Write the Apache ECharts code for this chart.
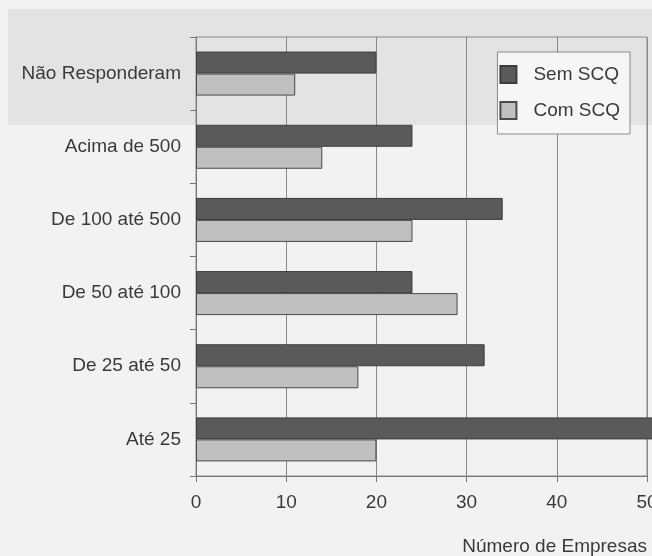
<!DOCTYPE html>
<html>
<head>
<meta charset="utf-8">
<script src="https://cdn.jsdelivr.net/npm/echarts@6/dist/echarts.min.js"></script>
<style>
  html, body { margin: 0; padding: 0; background: #f2f2f0; }
  #chart { width: 652px; height: 556px; }
</style>
</head>
<body>
<div id="chart"></div>
<script>
// Company size classes (top to bottom as drawn)
const categories = ['Não Responderam', 'Acima de 500', 'De 100 até 500', 'De 50 até 100', 'De 25 até 50', 'Até 25'];
// Number of companies without / with SCQ
const semSCQ = [20, 24, 34, 24, 32, 51];
const comSCQ = [11, 14, 24, 29, 18, 20];
const xTicks = [0, 10, 20, 30, 40, 50];
const seriesNames = ['Sem SCQ', 'Com SCQ'];

const font = 'Liberation Sans, Arial, sans-serif';
const chart = echarts.init(document.getElementById('chart'), null, { renderer: 'canvas' });

chart.setOption({
  backgroundColor: '#f2f2f0',
  animation: false,
  graphic: [
    { type: 'rect', z: -10, shape: { x: 8, y: 9, width: 644, height: 116 }, style: { fill: '#e3e3e1' } }
  ],
  grid: {
    left: 196, right: 5, top: 37, bottom: 80,
    outerBoundsMode: 'none',
    show: true, borderColor: '#8a8a8a', borderWidth: 1, backgroundColor: 'transparent'
  },
  legend: {
    data: seriesNames,
    orient: 'vertical',
    right: 22,
    top: 52,
    padding: [13, 10, 14, 2],
    itemGap: 17,
    itemWidth: 16,
    itemHeight: 17,
    icon: 'rect',
    backgroundColor: '#f6f6f4',
    borderColor: '#8a8a8a',
    borderWidth: 1,
    textStyle: { fontFamily: font, fontSize: 19, color: '#3a3a3a', padding: [0, 0, 0, 12] }
  },
  xAxis: {
    type: 'value',
    min: 0,
    max: 50,
    interval: 10,
    position: 'bottom',
    name: 'Número de Empresas',
    nameLocation: 'end',
    nameGap: 0,
    nameTextStyle: { fontFamily: font, fontSize: 19, color: '#3a3a3a', align: 'right', verticalAlign: 'top', padding: [61, 0, 0, 0] },
    axisLine: { show: true, lineStyle: { color: '#777', width: 1 } },
    axisTick: { show: true, length: 6, lineStyle: { color: '#777' } },
    splitLine: { show: true, lineStyle: { color: '#8a8a8a', width: 1 } },
    axisLabel: {
      fontFamily: font, fontSize: 19, color: '#3a3a3a', margin: 17,
      formatter: v => xTicks.includes(v) ? String(v) : ''
    }
  },
  yAxis: {
    type: 'category',
    data: categories,
    inverse: true,
    axisLine: { show: true, lineStyle: { color: '#777', width: 1 } },
    axisTick: { show: true, length: 6, lineStyle: { color: '#777' } },
    axisLabel: { fontFamily: font, fontSize: 19, color: '#3a3a3a', margin: 15 },
    splitLine: { show: false }
  },
  series: [
    {
      name: seriesNames[0], type: 'bar', data: semSCQ,
      barWidth: 22, barGap: '0%', clip: false,
      itemStyle: { color: '#5a5a5a', borderColor: '#3c3c3c', borderWidth: 1 }
    },
    {
      name: seriesNames[1], type: 'bar', data: comSCQ,
      barWidth: 22, barGap: '0%', clip: false,
      itemStyle: { color: '#c0c0be', borderColor: '#4a4a4a', borderWidth: 1 }
    }
  ]
});
</script>
</body>
</html>
